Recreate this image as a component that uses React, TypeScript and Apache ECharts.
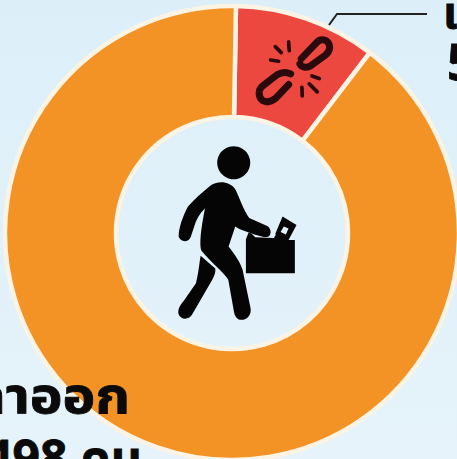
import React, { useEffect, useRef } from "react";
import * as echarts from "echarts";

const categories = ["เลิกจ้าง", "ลาออก"];
const values = [56, 498];
const valueLabels = ["56 คน", "498 คน"];
const sliceColors = ["#EC4840", "#F39225"];

const bodyPath =
  "M150 168 C172 152 208 152 226 178 C240 205 250 240 268 264 L322 288 C332 294 336 308 328 318 C318 326 300 320 250 302 C238 298 232 294 226 290 L206 350 C225 375 240 395 248 420 L272 535 C275 555 262 570 245 570 C230 570 224 558 222 545 L205 450 C190 425 150 395 124 362 C118 345 122 300 135 236 C120 250 108 270 102 292 L92 322 C85 338 62 338 56 320 C56 295 68 260 84 230 C105 205 130 185 150 168 Z";
const backLegPath =
  "M122 378 L166 416 C168 430 160 445 150 462 L96 555 C85 572 60 570 55 550 C54 535 62 525 72 512 L108 460 C116 430 118 400 122 378 Z";
const casePath =
  "M258 328 L266 308 L274 310 L286 322 L342 324 L348 314 L346 312 L368 260 L410 285 L386 330 L405 330 L405 430 L258 430 Z M372 290 L362 306 L378 314 L386 296 Z";
const linkUpperPath =
  "M244 176 L290 128 C302 114 322 118 328 134 C332 148 326 158 316 166 L272 198 C262 204 246 204 240 192";
const linkLowerPath =
  "M212 222 C200 216 186 216 172 224 L128 258 C114 270 114 290 128 302 C142 310 156 304 166 296 L206 254";
const raysPath =
  "M166 140 L184 158 M206 126 L208 152 M152 180 L176 184 M276 228 L298 236 M268 252 L292 276 M246 262 L247 288";

echarts.graphic.registerShape("bodyShape", echarts.graphic.extendPath(bodyPath, {}));
echarts.graphic.registerShape("backLegShape", echarts.graphic.extendPath(backLegPath, {}));
echarts.graphic.registerShape("caseShape", echarts.graphic.extendPath(casePath, {}));
echarts.graphic.registerShape("linkUpperShape", echarts.graphic.extendPath(linkUpperPath, {}));
echarts.graphic.registerShape("linkLowerShape", echarts.graphic.extendPath(linkLowerPath, {}));
echarts.graphic.registerShape("raysShape", echarts.graphic.extendPath(raysPath, {}));

const FONT = '"Noto Sans Thai","Noto Sans","DejaVu Sans",sans-serif';

export default function App() {
  const ref = useRef<HTMLDivElement>(null);
  useEffect(() => {
    const chart = echarts.init(ref.current!, null, { renderer: "svg" });
    const third = 1 / 3;
    const figure = { x: 160, y: 130, scaleX: third, scaleY: third };
    const icon = { x: 220, y: 0, scaleX: third, scaleY: third };
    const stroke = { stroke: "#2A0A0C", lineWidth: 21, lineCap: "round", fill: "none" };
    const over = { silent: true, z: 10 };
    const ink = { fill: "#0A0A0A", stroke: "#0A0A0A", lineWidth: 0.8 };
    chart.setOption({
      animation: false,
      backgroundColor: new echarts.graphic.LinearGradient(0, 0, 0, 1, [
        { offset: 0, color: "#DCEFF9" },
        { offset: 1, color: "#E6F3FA" },
      ]),
      series: [
        {
          type: "pie",
          center: [232, 233],
          radius: [116, 227],
          startAngle: 89,
          clockwise: true,
          silent: true,
          label: { show: false },
          labelLine: { show: false },
          itemStyle: { borderColor: "#FBF4E4", borderWidth: 4.5 },
          data: categories.map((name, i) => ({
            name,
            value: values[i],
            itemStyle: { color: sliceColors[i] },
          })),
        },
      ],
      graphic: [
        { type: "polyline", ...over, shape: { points: [[329, 25], [337, 14], [427, 14]] }, style: { stroke: "#222", lineWidth: 2, fill: "none" } },
        { type: "text", ...over, x: 443, y: -8, style: { text: categories[0], font: `bold 44px ${FONT}`, ...ink } },
        { type: "text", ...over, x: 447, y: 40, style: { text: valueLabels[0], font: `bold 50px ${FONT}`, ...ink } },
        { type: "text", ...over, x: 130, y: 374, scaleX: 1.13, style: { text: categories[1], font: `bold 49px ${FONT}`, align: "right", ...ink } },
        { type: "text", ...over, x: 142, y: 436, style: { text: valueLabels[1], font: `bold 48px ${FONT}`, align: "right", ...ink } },
        { type: "circle", ...over, shape: { cx: 233.7, cy: 162.7, r: 16.5 }, style: { fill: "#050505" } },
        { type: "bodyShape", ...over, ...figure, style: { fill: "#050505" } },
        { type: "backLegShape", ...over, ...figure, style: { fill: "#050505" } },
        { type: "caseShape", ...over, ...figure, style: { fill: "#050505" } },
        { type: "linkUpperShape", ...over, ...icon, style: stroke },
        { type: "linkLowerShape", ...over, ...icon, style: stroke },
        { type: "raysShape", ...over, ...icon, style: { ...stroke, lineWidth: 11 } },
      ],
    });
    return () => chart.dispose();
  }, []);
  return (
    <div
      ref={ref}
      style={{ position: "fixed", left: 0, top: 0, width: 457, height: 459, overflow: "hidden" }}
    />
  );
}
